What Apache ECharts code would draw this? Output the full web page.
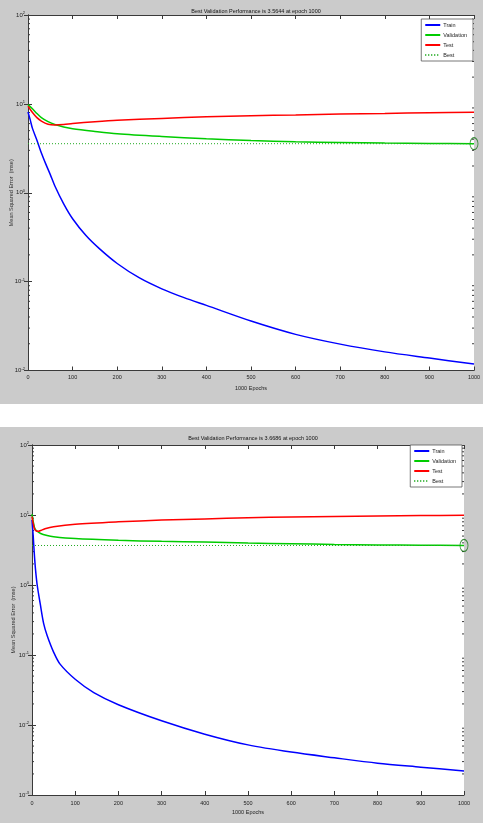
<!DOCTYPE html>
<html lang="en">
<head>
<meta charset="utf-8">
<title>Performance plots</title>
<script src="https://cdn.jsdelivr.net/npm/echarts@6/dist/echarts.min.js"></script>
<style>
  html, body { margin: 0; padding: 0; background: #fff; }
  #perf1 { width: 483px; height: 404px; background: #cbcbcb; }
  #perf2 { width: 483px; height: 396px; background: #cbcbcb; margin-top: 23px; }
</style>
</head>
<body>
<div id="perf1"></div>
<div id="perf2"></div>
<script>
  // values
  var epochTicks = [0, 100, 200, 300, 400, 500, 600, 700, 800, 900, 1000];
  var minorSteps = [2, 3, 4, 5, 6, 7, 8, 9];

  var title1 = 'Best Validation Performance is 3.5644 at epoch 1000';
  var best1 = 3.5644;
  var train1 = [[0,8.1],[5,6.6],[10,5.3],[20,3.9],[30,2.8],[40,2.1],[50,1.6],[60,1.2],[80,0.75],
    [100,0.51],[130,0.33],[160,0.235],[200,0.16],[250,0.11],[300,0.083],[350,0.066],[400,0.054],
    [500,0.036],[600,0.0255],[700,0.0198],[800,0.0162],[900,0.0138],[1000,0.0118]];
  var valid1 = [[0,9.8],[10,8.8],[20,7.8],[30,7.0],[45,6.3],[60,5.85],[80,5.5],[100,5.25],[150,4.9],
    [200,4.62],[300,4.3],[400,4.05],[500,3.87],[600,3.75],[700,3.68],[800,3.62],[900,3.59],[1000,3.5644]];
  var test1 = [[0,9.4],[10,8.0],[20,7.0],[30,6.4],[45,5.9],[60,5.78],[80,5.85],[100,6.0],[150,6.3],
    [200,6.55],[300,6.85],[400,7.15],[500,7.35],[600,7.5],[700,7.68],[800,7.8],[900,7.95],[1000,8.05]];

  var title2 = 'Best Validation Performance is 3.6686 at epoch 1000';
  var best2 = 3.6686;
  var train2 = [[0,8.5],[3,4.8],[5,3.0],[8,1.7],[12,1.0],[19,0.54],[27,0.28],[35,0.19],[50,0.11],
    [65,0.074],[100,0.045],[143,0.029],[200,0.0195],[300,0.0115],[400,0.0074],[500,0.0052],
    [600,0.0041],[700,0.0034],[800,0.00285],[900,0.0025],[1000,0.0022]];
  var valid2 = [[0,10.3],[3,8.0],[6,6.6],[10,6.0],[20,5.45],[35,5.1],[50,4.9],[100,4.6],[200,4.35],
    [300,4.2],[400,4.1],[500,3.98],[600,3.88],[700,3.8],[800,3.74],[900,3.7],[1000,3.6686]];
  var test2 = [[0,9.5],[3,7.5],[6,6.3],[10,5.9],[15,5.85],[20,6.0],[30,6.35],[50,6.8],[100,7.4],
    [200,8.0],[300,8.45],[400,8.8],[500,9.15],[600,9.35],[700,9.5],[800,9.65],[900,9.8],[1000,9.95]];

  var FONT = 'Liberation Sans';
  var AX = '#3a3a3a';

  function minorTickData(lo, hi) {
    var out = [];
    for (var e = lo; e < hi; e++) {
      minorSteps.forEach(function (k) { out.push([0, k * Math.pow(10, e)]); });
    }
    return out;
  }

  function minorTickItem(params, api) {
    var v = api.value(1);
    var l = api.coord([0, v]);
    var r = api.coord([1000, v]);
    var st = { stroke: AX, lineWidth: 1 };
    return {
      type: 'group',
      children: [
        { type: 'line', shape: { x1: l[0], y1: l[1], x2: l[0] + 2, y2: l[1] }, style: st },
        { type: 'line', shape: { x1: r[0] - 2, y1: r[1], x2: r[0], y2: r[1] }, style: st }
      ]
    };
  }

  function buildOption(cfg) {
    var yLabel = {
      fontFamily: FONT, color: '#222', margin: 3,
      formatter: function (v) {
        return '{b|10}{e|' + Math.round(Math.log10(v)) + '}';
      },
      rich: {
        b: { fontSize: 6, fontFamily: FONT, color: '#222', lineHeight: 8 },
        e: { fontSize: 4, fontFamily: FONT, color: '#222', lineHeight: 8, verticalAlign: 'top', padding: [0, 0, 3, 0] }
      }
    };
    var xBase = { type: 'value', min: 0, max: 1000, interval: 100,
      splitLine: { show: false },
      axisLine: { show: true, onZero: false, lineStyle: { color: AX, width: 1 } },
      axisTick: { inside: true, length: 4, lineStyle: { color: AX } } };
    var yBase = { type: 'log', logBase: 10, min: cfg.ymin, max: cfg.ymax,
      splitLine: { show: false },
      axisLine: { show: true, lineStyle: { color: AX, width: 1 } },
      axisTick: { inside: true, length: 4, lineStyle: { color: AX } } };

    return {
      animation: false,
      textStyle: { fontFamily: FONT },
      title: {
        text: cfg.title, left: cfg.titleX, top: cfg.titleTop, textAlign: 'center',
        textStyle: { fontSize: 5.5, fontWeight: 'normal', color: '#111', fontFamily: FONT }
      },
      legend: {
        orient: 'vertical', right: cfg.legendRight, top: cfg.legendTop,
        data: ['Train', 'Validation', 'Test', 'Best'],
        backgroundColor: '#fff', borderColor: '#555', borderWidth: 0.8, borderRadius: 0,
        padding: [3, 6, 3, 3], itemWidth: 15, itemHeight: 7, itemGap: 4,
        itemStyle: { opacity: 0 },
        textStyle: { fontSize: 5.5, color: '#222', fontFamily: FONT, padding: [0, 0, 0, -2] }
      },
      grid: Object.assign({ show: true, backgroundColor: '#fff', borderWidth: 0,
        containLabel: false, outerBoundsMode: 'none' }, cfg.grid),
      xAxis: [
        Object.assign({}, xBase, {
          position: 'bottom', name: '1000 Epochs', nameLocation: 'middle', nameGap: cfg.xNameGap,
          nameMoveOverlap: false,
          nameTextStyle: { fontSize: 5.5, color: '#222', fontFamily: FONT },
          axisLabel: { fontSize: 5.5, color: '#222', margin: cfg.xLabelMargin, fontFamily: FONT,
            formatter: function (v) { return String(v); } }
        }),
        Object.assign({}, xBase, { position: 'top', axisLabel: { show: false } })
      ],
      yAxis: [
        Object.assign({}, yBase, {
          position: 'left', name: 'Mean Squared Error  (mse)', nameLocation: 'middle',
          nameGap: cfg.yNameGap, nameRotate: 90, nameMoveOverlap: false,
          nameTextStyle: { fontSize: 5.5, color: '#333', fontFamily: FONT },
          axisLabel: yLabel
        }),
        Object.assign({}, yBase, { position: 'right', axisLabel: { show: false } })
      ],
      series: [
        { name: 'Train', type: 'line', data: cfg.train, showSymbol: false, symbol: 'none', smooth: 0.3,
          lineStyle: { color: '#0000ff', width: 1.5 }, itemStyle: { color: '#0000ff' } },
        { name: 'Validation', type: 'line', data: cfg.valid, showSymbol: false, symbol: 'none', smooth: 0.3,
          lineStyle: { color: '#00cc00', width: 1.5 }, itemStyle: { color: '#00cc00' } },
        { name: 'Test', type: 'line', data: cfg.test, showSymbol: false, symbol: 'none', smooth: 0.3,
          lineStyle: { color: '#ff0000', width: 1.5 }, itemStyle: { color: '#ff0000' } },
        { name: 'Best', type: 'line', data: [[0, cfg.best], [1000, cfg.best]], showSymbol: false, symbol: 'none',
          lineStyle: { color: '#22aa22', width: 1, type: [1, 2] }, itemStyle: { color: '#22aa22' } },
        { name: 'bestPoint', type: 'scatter', data: [[1000, cfg.best]], symbol: 'circle', symbolSize: [8, 12],
          clip: false, itemStyle: { color: 'rgba(0,0,0,0)', borderColor: '#107010', borderWidth: 1 } },
        { name: 'minorTicks', type: 'custom', data: minorTickData(cfg.loExp, cfg.hiExp),
          renderItem: minorTickItem, clip: false, silent: true }
      ]
    };
  }

  var perf1 = echarts.init(document.getElementById('perf1'));
  perf1.setOption(buildOption({
    title: title1, titleX: 251, titleTop: 3,
    grid: { left: 28, right: 9, top: 15, bottom: 33.5 },
    ymin: 0.01, ymax: 100, loExp: -2, hiExp: 2,
    legendRight: 10, legendTop: 19,
    xNameGap: 15, xLabelMargin: 4, yNameGap: 14,
    train: train1, valid: valid1, test: test1, best: best1
  }));

  var perf2 = echarts.init(document.getElementById('perf2'));
  perf2.setOption(buildOption({
    title: title2, titleX: 248, titleTop: 3,
    grid: { left: 32, right: 19, top: 18, bottom: 28 },
    ymin: 0.001, ymax: 100, loExp: -3, hiExp: 2,
    legendRight: 21, legendTop: 18,
    xNameGap: 14, xLabelMargin: 5, yNameGap: 16,
    train: train2, valid: valid2, test: test2, best: best2
  }));

  window.addEventListener('resize', function () {
    setTimeout(function () { perf1.resize(); perf2.resize(); }, 200);
  });
</script>
</body>
</html>
